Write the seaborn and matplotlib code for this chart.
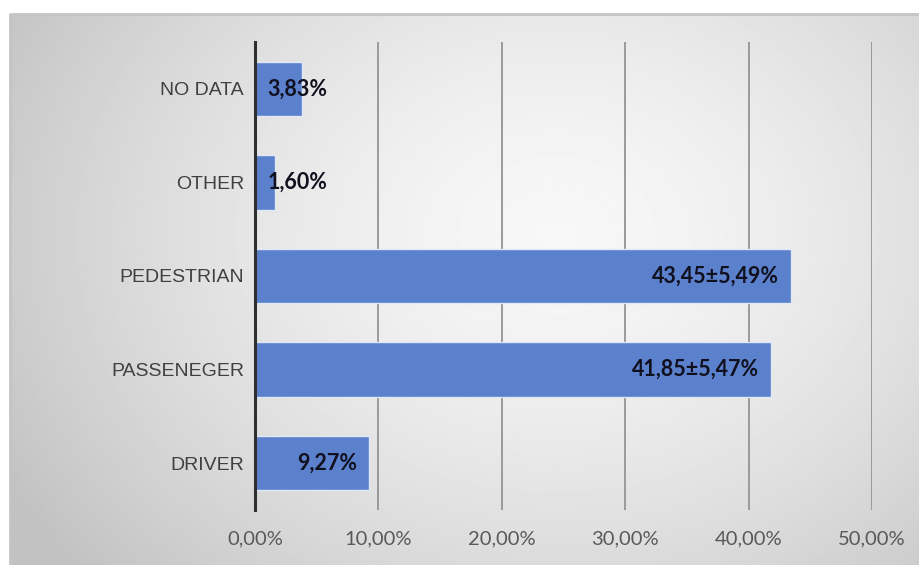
import numpy as np
import pandas as pd
import matplotlib
matplotlib.use("Agg")
import matplotlib.pyplot as plt
import seaborn as sns

categories = ["NO DATA", "OTHER", "PEDESTRIAN", "PASSENEGER", "DRIVER"]
values = [3.83, 1.60, 43.45, 41.85, 9.27]
labels = ["3,83%", "1,60%", "43,45±5,49%", "41,85±5,47%", "9,27%"]
xticks = [0, 10, 20, 30, 40, 50]
xtick_labels = ["0,00%", "10,00%", "20,00%", "30,00%", "40,00%", "50,00%"]

df = pd.DataFrame({"category": categories, "value": values})

sns.set_style("white")
plt.rcParams["font.family"] = ["Lato", "DejaVu Sans"]

fig = plt.figure(figsize=(9.2, 5.65), dpi=100)
fig.patch.set_facecolor("white")

# gradient backdrop of the chart area
bg = fig.add_axes([10 / 920, 0, 910 / 920, 551 / 565], zorder=-5)
h, w = 300, 500
yy, xx = np.mgrid[0:h, 0:w]
cx, cy = 0.6 * w, 0.4 * h
d = np.sqrt(((xx - cx) / (0.72 * w)) ** 2 + ((yy - cy) / (0.95 * h)) ** 2)
shade = np.clip(0.97 - 0.22 * d ** 1.5, 0.76, 0.975)
bg.imshow(shade, cmap="gray", vmin=0, vmax=1, aspect="auto", extent=[0, 1, 0, 1])
bg.plot([0, 0, 1], [0, 1, 1], transform=bg.transAxes, color="#c4c4c4",
        linewidth=2, clip_on=False)
bg.set_axis_off()

ax = fig.add_axes([255 / 920, 55 / 565, (872 - 255) / 920, (523 - 55) / 565])
ax.set_facecolor("none")

sns.barplot(data=df, x="value", y="category", orient="h", color="#5b80cc",
            width=0.58, edgecolor="#dfe8f6", linewidth=1, saturation=1, ax=ax)

ax.set_xlim(0, 50)
ax.set_ylim(4.5, -0.5)
ax.set_xticks(xticks)
ax.set_xticklabels(xtick_labels, fontsize=14.5, color="#595959")
ax.set_yticks(range(len(categories)))
ax.set_yticklabels(categories, fontsize=14, color="#404040",
                   family=["Liberation Sans", "DejaVu Sans"])
ax.set_xlabel("")
ax.set_ylabel("")
ax.tick_params(axis="both", length=0)
ax.tick_params(axis="x", pad=15)
ax.tick_params(axis="y", pad=8)

ax.grid(axis="x", color="#9a9a9a", linewidth=1.4)
ax.set_axisbelow(True)
for side in ["top", "right", "bottom"]:
    ax.spines[side].set_visible(False)
ax.spines["left"].set_color("#2f2f2f")
ax.spines["left"].set_linewidth(2.2)
ax.spines["left"].set_zorder(5)

for i, (v, lab) in enumerate(zip(values, labels)):
    if v > 8:
        ax.annotate(lab, (v, i), xytext=(-9, 0), textcoords="offset points",
                    ha="right", va="center", fontsize=15.5, fontweight="bold",
                    color="#10101e")
    else:
        ax.annotate(lab, (0, i), xytext=(9, 0), textcoords="offset points",
                    ha="left", va="center", fontsize=15.5, fontweight="bold",
                    color="#10101e")

fig.savefig("out.png", dpi=100)
